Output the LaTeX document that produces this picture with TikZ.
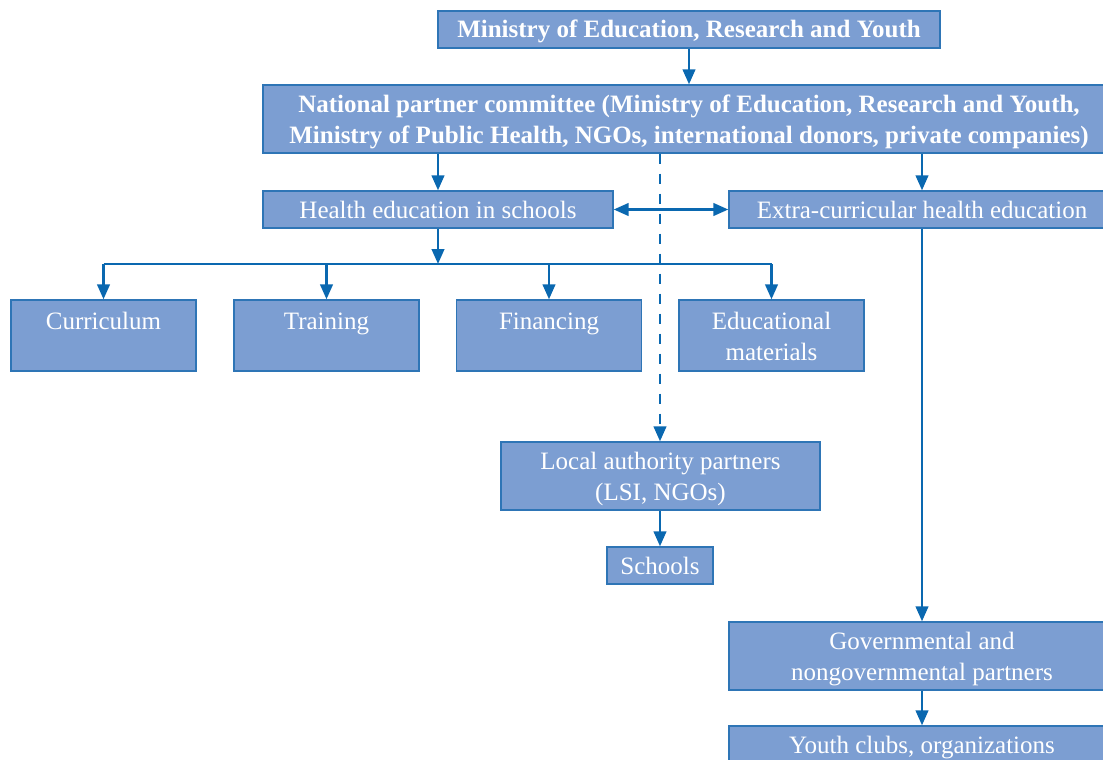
\documentclass[tikz,border=0pt]{standalone}
\usepackage{fontspec}
\setmainfont{Liberation Serif}
\usetikzlibrary{arrows.meta}
\definecolor{boxfill}{RGB}{124,158,210}
\definecolor{boxline}{RGB}{46,117,182}
\definecolor{arrcol}{RGB}{10,104,176}
\tikzset{
  box/.style={draw=boxline, line width=1.3pt, fill=boxfill, inner sep=0pt},
  txt/.style={anchor=base, text=white, inner sep=0pt, font=\fontsize{25}{31}\selectfont},
  boldtxt/.style={txt, font=\fontsize{25}{31}\selectfont\bfseries},
  conn/.style={draw=arrcol, line width=2.6pt},
  arr/.style={conn, -{Triangle[length=15pt,width=12.5pt]}},
  darr/.style={conn, {Triangle[length=15pt,width=12.5pt]}-{Triangle[length=15pt,width=12.5pt]}},
  dashconn/.style={arr, dash pattern=on 10pt off 10pt},
}
\begin{document}
\begin{tikzpicture}[x=1pt,y=-1pt]
\useasboundingbox (0,0) rectangle (1103,760);
\clip (0,0) rectangle (1103,760);
% boxes
\node[box, minimum width=502pt, minimum height=37pt] (min) at (689,29.5) {};
\node[box, minimum width=852pt, minimum height=68pt] (nat) at (689,119) {};
\node[box, minimum width=350pt, minimum height=37pt] (hl) at (438,209.5) {};
\node[box, minimum width=386pt, minimum height=37pt] (ex) at (922,209.5) {};
\node[box, minimum width=185pt, minimum height=71pt] (cur) at (103.5,335.5) {};
\node[box, minimum width=185pt, minimum height=71pt] (tra) at (326.5,335.5) {};
\node[box, minimum width=185pt, minimum height=71pt] (fin) at (549,335.5) {};
\node[box, minimum width=185pt, minimum height=71pt] (edu) at (771.5,335.5) {};
\node[box, minimum width=319pt, minimum height=68pt] (loc) at (660.5,476) {};
\node[box, minimum width=106pt, minimum height=37pt] (sch) at (660,565.5) {};
\node[box, minimum width=386pt, minimum height=68pt] (gov) at (922,656) {};
\node[box, minimum width=386pt, minimum height=37pt] (you) at (922,744.5) {};
% texts
\node[boldtxt] (mint) at ([yshift=-8.5pt]min.center) {Ministry of Education, Research and Youth};
\node[boldtxt] (nata) at ([yshift=7pt]nat.center) {National partner committee (Ministry of Education, Research and Youth,};
\node[boldtxt] (natb) at ([yshift=-24pt]nat.center) {Ministry of Public Health, NGOs, international donors, private companies)};
\node[txt] (hlt) at ([yshift=-8.5pt]hl.center) {Health education in schools};
\node[txt] (ext) at ([yshift=-8.5pt]ex.center) {Extra-curricular health education};
\node[txt] (curt) at ([yshift=6.5pt]cur.center) {Curriculum};
\node[txt] (trat) at ([yshift=6.5pt]tra.center) {Training};
\node[txt] (fint) at ([yshift=6.5pt]fin.center) {Financing};
\node[txt] (edua) at ([yshift=6.5pt]edu.center) {Educational};
\node[txt] (edub) at ([yshift=-24.5pt]edu.center) {materials};
\node[txt] (loca) at ([yshift=7pt]loc.center) {Local authority partners};
\node[txt] (locb) at ([yshift=-24pt]loc.center) {(LSI, NGOs)};
\node[txt] (scht) at ([yshift=-8.5pt]sch.center) {Schools};
\node[txt] (gova) at ([yshift=7pt]gov.center) {Governmental and};
\node[txt] (govb) at ([yshift=-24pt]gov.center) {nongovernmental partners};
\node[txt] (yout) at ([yshift=-8.5pt]you.center) {Youth clubs, organizations};
% connectors
\coordinate (bus) at (438,264);
\coordinate (dash) at (660,0);
\draw[arr] (min.south) -- (nat.north);
\draw[arr] (nat.south -| hl.north) -- (hl.north);
\draw[arr] (nat.south -| ex.north) -- (ex.north);
\draw[darr] (hl.east) -- (ex.west);
\draw[arr] (hl.south) -- (bus);
\draw[conn] (cur.north |- bus) -- (edu.north |- bus);
\draw[arr] (cur.north |- bus) -- (cur.north);
\draw[arr] (tra.north |- bus) -- (tra.north);
\draw[arr] (fin.north |- bus) -- (fin.north);
\draw[arr] (edu.north |- bus) -- (edu.north);
\draw[dashconn] (nat.south -| dash) -- (loc.north -| dash);
\draw[arr] (loc.south -| sch.north) -- (sch.north);
\draw[arr] (ex.south) -- (gov.north);
\draw[arr] (gov.south) -- (you.north);
\end{tikzpicture}
\end{document}
